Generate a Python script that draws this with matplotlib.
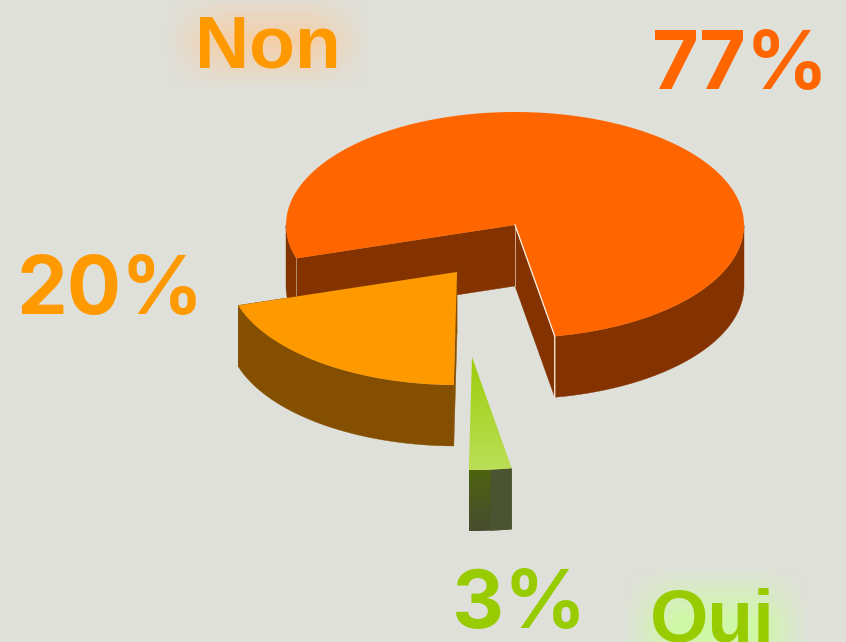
import numpy as np
import matplotlib
matplotlib.use("Agg")
import matplotlib.pyplot as plt
from matplotlib.colors import LinearSegmentedColormap, to_rgb
from matplotlib.font_manager import FontProperties
from matplotlib.patches import Polygon

# donnees du graphique
valeurs = [77, 20, 3]
couleurs_dessus = ["#ff6600", "#ff9900", "#99cc00"]
couleurs_cote = ["#843300", "#844f00", "#4b5a20"]
noms = ["Non", "Oui"]
couleurs_noms = ["#ff9900", "#99cc00"]
halos = ["#ffc78f", "#ccff99"]

FOND = "#dfe0da"
RX, RY = 229, 113
EPAISSEUR = 61
DEPART = 280
centres = [(515, 225), (457, 272), (472, 357)]

fig = plt.figure(figsize=(8.46, 6.42), dpi=100, facecolor=FOND)
ax = fig.add_axes([0, 0, 1, 1])
ax.set_facecolor(FOND)
ax.axis("off")


def point(cx, cy, angle):
    a = np.radians(angle)
    return cx + RX * np.cos(a), cy - RY * np.sin(a)


def arc(cx, cy, debut, fin):
    angles = np.linspace(debut, fin, 200)
    return np.column_stack(point(cx, cy, angles))


def descendre(points):
    return points + np.array([0, EPAISSEUR])


def morceaux_visibles(debut, fin):
    # parties de l'arc tournees vers le bas (sin < 0)
    res = []
    for k in range(-1, 3):
        a, b = max(debut, 180 + 360 * k), min(fin, 360 + 360 * k)
        if a < b:
            res.append((a, b))
    return res


def degrade(poly, haut, bas, y0, y1, x0, x1):
    # remplissage vertical, coupe sur le polygone
    cmap = LinearSegmentedColormap.from_list("d", [haut, bas])
    im = ax.imshow(np.linspace(0, 1, 100).reshape(-1, 1), cmap=cmap, aspect="auto",
                   extent=(x0, x1, y1, y0), zorder=poly.get_zorder())
    poly.set_facecolor("none")
    poly.set_edgecolor("none")
    ax.add_patch(poly)
    im.set_clip_path(poly)


def halo(x0, x1, y0, y1, couleur, marge):
    xs = np.arange(x0, x1) + 0.5
    ys = np.arange(y0, y1) + 0.5
    ramp_x = np.clip(np.minimum(xs - x0, x1 - xs) / marge, 0, 1)
    ramp_y = np.clip(np.minimum(ys - y0, y1 - ys) / marge, 0, 1)
    rgba = np.zeros((len(ys), len(xs), 4))
    rgba[..., :3] = to_rgb(couleur)
    rgba[..., 3] = np.outer(ramp_y, ramp_x) * 0.8
    ax.imshow(rgba, extent=(x0, x1, y1, y0), aspect="auto", zorder=1, interpolation="bilinear")


halo(165, 370, -8, 90, halos[0], 58)
halo(622, 810, 566, 690, halos[1], 55)

debut = DEPART
for i, v in enumerate(valeurs):
    fin = debut + v * 3.6
    cx, cy = centres[i]
    z = 2 + i * 3
    dessus = np.vstack([[cx, cy], arc(cx, cy, debut, fin)])

    if i == 2:
        # la petite part a un cote en degrade, en deux morceaux
        bord = arc(cx, cy, debut, fin)
        x0, x1 = bord[:, 0].min(), bord[:, 0].max()
        y0, y1 = bord[:, 1].min(), bord[:, 1].max() + EPAISSEUR
        cote = np.vstack([bord, descendre(bord)[::-1]])
        degrade(Polygon(cote, closed=True, zorder=z), "#4f640e", "#474c30", y0, y1, x0, x1)
        droite = bord[len(bord) // 2:]
        ax.add_patch(Polygon(np.vstack([droite, descendre(droite)[::-1]]), closed=True,
                             facecolor="#4a5430", edgecolor="none", zorder=z))
        degrade(Polygon(dessus, closed=True, zorder=z + 1), "#9ccd0c", "#bbdf58", cy, cy + RY, x0 - 5, x1 + 5)
    else:
        # faces laterales
        for ang in (debut, fin):
            p = np.array(point(cx, cy, ang))
            c = np.array([cx, cy])
            face = np.array([c, p, p + [0, EPAISSEUR], c + [0, EPAISSEUR]])
            ax.add_patch(Polygon(face, closed=True, facecolor=couleurs_cote[i], edgecolor=couleurs_cote[i],
                                 linewidth=0.3, zorder=z))
        for a, b in morceaux_visibles(debut, fin):
            bord = arc(cx, cy, a, b)
            ax.add_patch(Polygon(np.vstack([bord, descendre(bord)[::-1]]), closed=True,
                                 facecolor=couleurs_cote[i], edgecolor=couleurs_cote[i],
                                 linewidth=0.3, zorder=z))
        ax.add_patch(Polygon(dessus, closed=True, facecolor=couleurs_dessus[i], edgecolor="none", zorder=z + 1))
        if i == 0:
            # filets clairs sur les aretes
            p = np.array(point(cx, cy, debut))
            ax.plot([cx, p[0], p[0]], [cy, p[1], p[1] + EPAISSEUR], color="#fff4ea", lw=0.9, zorder=z + 1)
            ax.plot([cx, cx], [cy, cy + EPAISSEUR], color="#c9a890", lw=0.7, zorder=z)
            q = np.array(point(cx, cy, fin))
            ax.plot([q[0], q[0]], [q[1], q[1] + EPAISSEUR], color="#b58a6a", lw=0.7, zorder=z)
    debut = fin

# textes
gras = FontProperties(family="Inter", weight="bold", size=58)
gras_nom = FontProperties(family="Liberation Sans", weight="bold", size=54)
ax.text(652, 89, f"{valeurs[0]}%", color=couleurs_dessus[0], fontproperties=gras, va="baseline", zorder=20)
ax.text(17, 314, f"{valeurs[1]}%", color=couleurs_dessus[1], fontproperties=gras, va="baseline", zorder=20)
ax.text(452, 628, f"{valeurs[2]}%", color=couleurs_dessus[2], fontproperties=gras, va="baseline", zorder=20)
ax.text(195, 68, noms[0], color=couleurs_noms[0], fontproperties=gras_nom, va="baseline", zorder=20)
ax.text(650, 641, noms[1], color=couleurs_noms[1], fontproperties=gras_nom, va="baseline", zorder=20)

ax.set_xlim(0, 846)
ax.set_ylim(642, 0)
fig.savefig("out.png", dpi=100, facecolor=FOND)
